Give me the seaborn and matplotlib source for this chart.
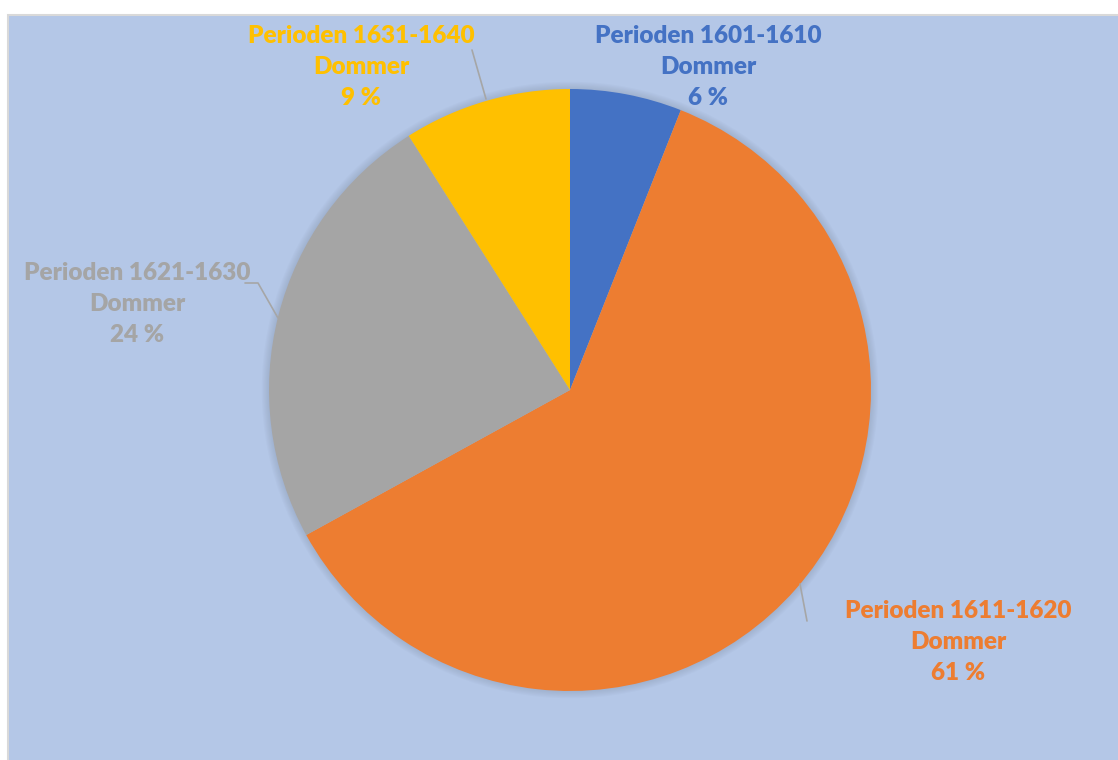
import matplotlib.pyplot as plt
import matplotlib.patches as mpatches
import seaborn as sns

# Set visual style
sns.set_theme(style="white")
plt.rcParams['font.family'] = ['Lato', 'DejaVu Sans']

# --- DATA ---
periods = ['Perioden 1601-1610', 'Perioden 1611-1620', 'Perioden 1621-1630', 'Perioden 1631-1640']
series_name = 'Dommer'
shares = [6, 61, 24, 9]
colors = ['#4472C4', '#ED7D31', '#A5A5A5', '#FFC000']

W, H = 1118, 760
cx, cy, r = 570, 390, 301  # pie centre and radius in pixels


def px(x, y):
    # pixel position -> data coords (pie radius = 1)
    return ((x - cx) / r, (cy - y) / r)


fig = plt.figure(figsize=(W / 100, H / 100), dpi=100, facecolor='white')

ax = fig.add_axes([0, 0, 1, 1])
ax.set_facecolor('none')

# chart area background with thin grey border
bg = mpatches.Rectangle((8 / W, -0.01), 1, 1.01 - 15 / H, transform=fig.transFigure,
                        facecolor='#B4C7E7', edgecolor='#D9D9D9', linewidth=1.5, zorder=0)
ax.add_patch(bg)

# soft shadow around the pie
for k in range(6):
    ax.add_patch(mpatches.Circle((0, 0), 1 + 0.004 * (k + 1), color='#7F8FA6',
                                 alpha=0.06, lw=0, zorder=1))

wedges, _ = ax.pie(shares, colors=colors, startangle=90, counterclock=False,
                   radius=1, center=(0, 0), frame=True,
                   wedgeprops=dict(linewidth=0, zorder=2))
ax.set_xlim(-cx / r, (W - cx) / r)
ax.set_ylim((cy - H) / r, cy / r)
ax.set_aspect('equal')
ax.axis('off')

# label positions (pixel centres) and leader lines
label_pos = [(708, 67), (958, 642), (137, 304), (361, 67)]
leaders = [None,
           [(800, 584), (807, 621)],
           [(245, 283), (258, 283), (278, 318)],
           [(472, 50), (486, 99)]]

for name, val, col, pos, lead in zip(periods, shares, colors, label_pos, leaders):
    x, y = px(*pos)
    ax.text(x, y, f'{name}\n{series_name}\n{val} %', ha='center', va='center',
            color=col, fontsize=17.5, fontweight='heavy', linespacing=1.5, zorder=5)
    if lead:
        xs, ys = zip(*[px(a, b) for a, b in lead])
        ax.plot(xs, ys, color='#A6A6A6', lw=1.2, zorder=4)

plt.savefig('out.png', dpi=100, facecolor='white')
